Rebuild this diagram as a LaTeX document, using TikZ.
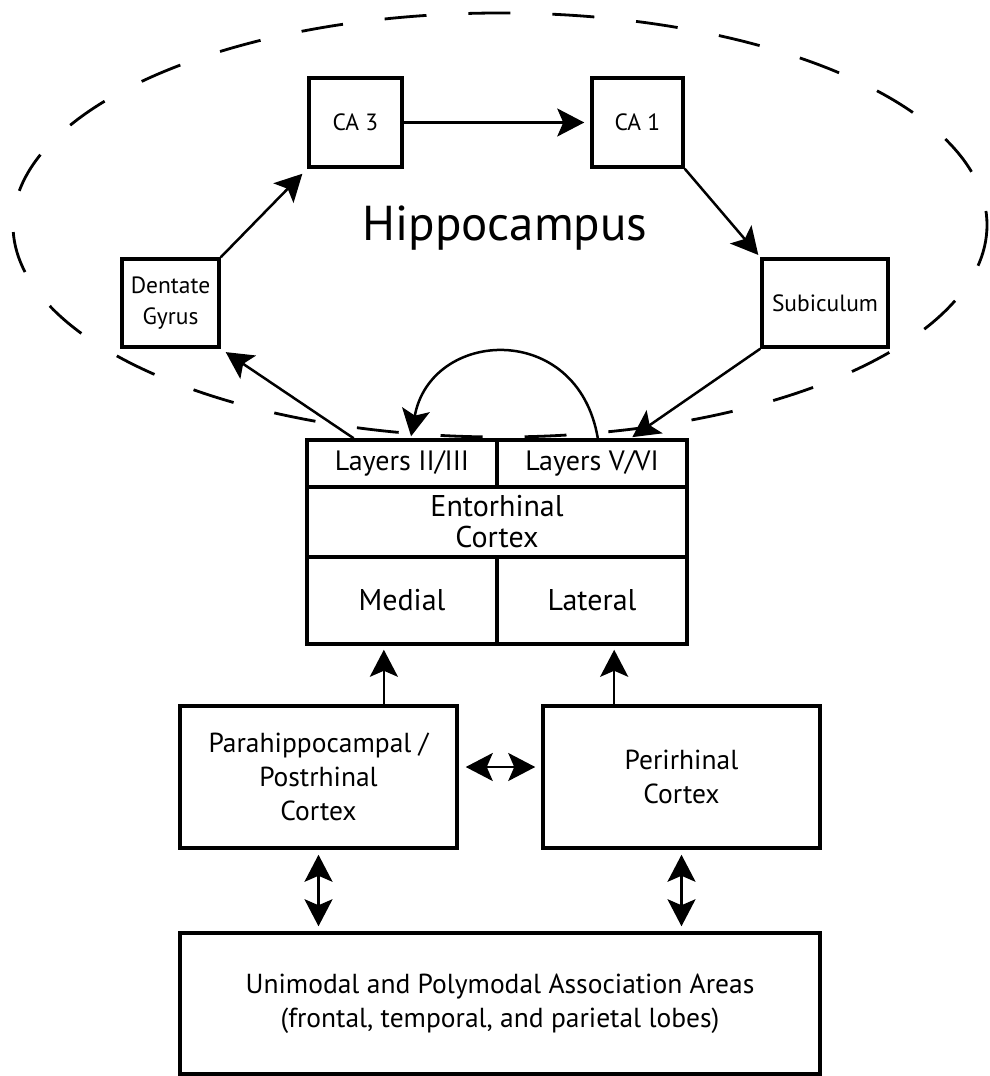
\documentclass[tikz,border=0pt]{standalone}
\usepackage{fontspec}
\setmainfont{PT Sans}
\usetikzlibrary{arrows.meta,calc}
\begin{document}
\begin{tikzpicture}[x=1pt,y=-1pt,
  box/.style={draw, line width=3.5pt, rectangle, inner sep=0pt, align=center,
    font=\fontsize{27.5}{34}\selectfont},
  sbox/.style={box, font=\fontsize{23.5}{31}\selectfont},
  arr/.style={line width=2.5pt, -{Stealth[length=27pt,width=28pt,inset=6pt]}},
  dbl/.style={line width=2.5pt, {Stealth[length=27pt,width=28pt,inset=6pt]}-{Stealth[length=27pt,width=28pt,inset=6pt]}},
  hull/.style={line width=2.8pt, dash pattern=on 42pt off 42pt},
]
\useasboundingbox (0,0) rectangle (990,1076);

% dashed hippocampus outline
\draw[hull] (500,225) ellipse [x radius=487, y radius=212];
\node[font=\fontsize{49}{52}\selectfont] (hip) at (505,228) {Hippocampus};

% hippocampal nodes
\node[sbox, minimum width=93pt, minimum height=89pt] (ca3) at (355.5,122.5) {CA 3};
\node[sbox, minimum width=91pt, minimum height=89pt] (ca1) at (637.5,122.5) {CA 1};
\node[sbox, minimum width=97pt, minimum height=88pt] (dg) at (170.5,303) {Dentate\\Gyrus};
\node[sbox, minimum width=126pt, minimum height=88pt] (sub) at (825,303) {Subiculum};

% entorhinal cortex composite
\node[box, minimum width=190pt, minimum height=47pt, font=\fontsize{28}{31}\selectfont] (l23) at (402,463.5) {Layers II/III};
\node[box, minimum width=190pt, minimum height=47pt, font=\fontsize{28}{31}\selectfont] (l56) at (592,463.5) {Layers V/VI};
\node[box, minimum width=380pt, minimum height=70pt, font=\fontsize{30}{31}\selectfont] (ec) at (497,522) {Entorhinal\\Cortex};
\node[box, minimum width=190pt, minimum height=87pt, font=\fontsize{30}{31}\selectfont] (med) at (402,600.5) {Medial};
\node[box, minimum width=190pt, minimum height=87pt, font=\fontsize{30}{31}\selectfont] (lat) at (592,600.5) {Lateral};

% lower nodes
\node[box, minimum width=277pt, minimum height=142pt] (para) at (318.5,777) {Parahippocampal /\\Postrhinal\\Cortex};
\node[box, minimum width=277pt, minimum height=142pt] (peri) at (681.5,777) {Perirhinal\\Cortex};
\node[box, minimum width=640pt, minimum height=141pt] (assoc) at (500,1003.5) {Unimodal and Polymodal Association Areas\\(frontal, temporal, and parietal lobes)};

% hippocampal loop
\draw[arr, shorten >=6pt] (ca3.east) -- (ca1.west);
\draw[arr, shorten >=7pt] (dg.north east) -- (ca3.south west);
\draw[arr, shorten >=3pt] (ca1.south east) -- (sub.north west);
\coordinate (l23a) at ($(l23.north west)!0.25!(l23.north east)$);
\coordinate (l23b) at ($(l23.north west)!0.545!(l23.north east)$);
\coordinate (l56a) at ($(l56.north west)!0.53!(l56.north east)$);
\coordinate (l56b) at ($(l56.north west)!0.70!(l56.north east)$);
\draw[arr, shorten >=6pt] (l23a) -- (dg.south east);
\draw[arr, shorten >=2pt] (sub.south west) -- (l56b);
\draw[arr, shorten >=2pt] (l56a) .. controls ($(l56a)+(-20,-118)$) and ($(l23b)+(20,-110)$) .. (l23b);

% cortical inputs
\coordinate (pa) at ($(para.north west)!0.733!(para.north east)$);
\coordinate (pe) at ($(peri.north west)!0.26!(peri.north east)$);
\draw[arr, shorten >=4pt] (pa) -- (pa |- med.south);
\draw[arr, shorten >=4pt] (pe) -- (pe |- lat.south);
\draw[dbl, shorten <=7pt, shorten >=6pt] ($(para.east)+(0,-10)$) -- ($(peri.west)+(0,-10)$);
\draw[dbl, shorten <=5pt, shorten >=5pt] (para.south) -- (para.south |- assoc.north);
\draw[dbl, shorten <=5pt, shorten >=5pt] (peri.south) -- (peri.south |- assoc.north);
\end{tikzpicture}
\end{document}
